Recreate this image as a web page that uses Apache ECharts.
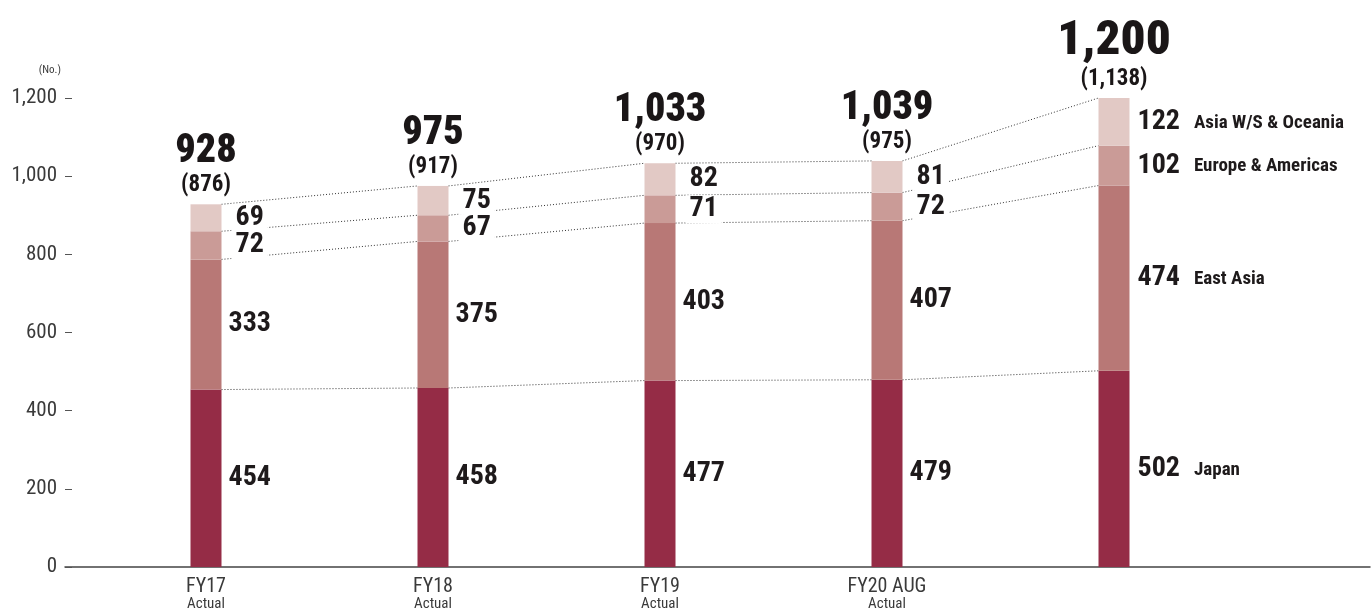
<!DOCTYPE html>
<html>
<head>
<meta charset="utf-8">
<script src="https://cdn.jsdelivr.net/npm/echarts@6/dist/echarts.min.js"></script>
<style>
html,body{margin:0;padding:0;background:#fff;}
#chart{width:1371px;height:612px;}
</style>
</head>
<body>
<div id="chart"></div>
<script>
const categories = ['FY17', 'FY18', 'FY19', 'FY20 AUG', ''];
const subLabels = ['Actual', 'Actual', 'Actual', 'Actual', ''];
const seriesNames = ['Japan', 'East Asia', 'Europe & Americas', 'Asia W/S & Oceania'];
const japan = [454, 458, 477, 479, 502];
const eastAsia = [333, 375, 403, 407, 474];
const europeAmericas = [72, 67, 71, 72, 102];
const asiaWSOceania = [69, 75, 82, 81, 122];
const totals = [928, 975, 1033, 1039, 1200];
const subTotals = [876, 917, 970, 975, 1138];
const yMin = 0, yMax = 1200, yStep = 200;

const FONT = '"Liberation Sans Narrow", "Roboto Condensed", "DejaVu Sans Condensed", "Liberation Sans", sans-serif';
const colors = ['#952c46', '#b87876', '#ca9b97', '#e2c9c5'];
const BAR_W = 31;
const seriesData = [japan, eastAsia, europeAmericas, asiaWSOceania];
const last = categories.length - 1;

function fmt(n) { return String(n).replace(/\B(?=(\d{3})+(?!\d))/g, ','); }

// cumulative tops for dotted connectors
const cum = [];
seriesData.forEach((arr, s) => {
  cum.push(arr.map((v, i) => v + (s > 0 ? cum[s - 1][i] : 0)));
});

const barSeries = seriesData.map((arr, s) => ({
  name: seriesNames[s],
  type: 'bar',
  stack: 'total',
  barWidth: BAR_W,
  z: 3,
  itemStyle: { color: colors[s] },
  data: arr.map((v, i) => {
    const isLast = i === last;
    return {
      value: v,
      label: {
        show: true,
        position: 'right',
        distance: isLast ? 4 : (s >= 2 ? 10 : 3),
        backgroundColor: '#fff',
        padding: [0, 4],
        formatter: isLast ? ('{v|' + v + '}{n|' + seriesNames[s] + '}') : ('{v|' + v + '}'),
        rich: {
          v: { fontFamily: FONT, fontWeight: 'bold', fontSize: 28, color: '#1e1a1b', lineHeight: 28 },
          n: { fontFamily: FONT, fontWeight: 'bold', fontSize: 19, color: '#1e1a1b', padding: [2, 0, 0, 14] }
        }
      }
    };
  })
}));

const lineSeries = cum.map((tops, s) => ({
  type: 'custom',
  z: 1,
  silent: true,
  data: tops.slice(0, -1).map((v, i) => [i, v, tops[i + 1]]),
  encode: { x: 0, y: 1 },
  renderItem: function (params, api) {
    const i = api.value(0);
    const p1 = api.coord([i, api.value(1)]);
    const p2 = api.coord([i + 1, api.value(2)]);
    return {
      type: 'line',
      shape: { x1: p1[0] + BAR_W / 2, y1: p1[1], x2: p2[0] - BAR_W / 2, y2: p2[1] },
      style: { stroke: '#333', lineWidth: 1, lineDash: [1, 2] }
    };
  }
}));

const totalSeries = {
  type: 'scatter',
  symbolSize: 0,
  z: 4,
  silent: true,
  itemStyle: { opacity: 1 },
  data: totals.map((t, i) => ({
    value: [i, t],
    label: {
      show: true,
      position: 'top',
      distance: 6,
      formatter: (i === last ? '{A|' : '{a|') + fmt(t) + '}\n{b|(' + fmt(subTotals[i]) + ')}',
      rich: {
        a: { fontFamily: FONT, fontWeight: 900, fontSize: 40, color: '#1a1617', lineHeight: 40, align: 'center' },
        A: { fontFamily: FONT, fontWeight: 900, fontSize: 49, color: '#1a1617', lineHeight: 48, align: 'center' },
        b: { fontFamily: FONT, fontWeight: 'bold', fontSize: 23, color: '#1a1617', lineHeight: 26, align: 'center' }
      }
    }
  }))
};

const chart = echarts.init(document.getElementById('chart'), null, { renderer: 'canvas' });
chart.setOption({
  animation: false,
  backgroundColor: '#fff',
  grid: [
    { left: 92.5, right: 143.5, top: 98, bottom: 45 },
    { left: 65, right: 1, top: 98, bottom: 45 }
  ],
  xAxis: [
    {
      type: 'category',
      gridIndex: 0,
      data: categories,
      axisLine: { show: false },
      axisTick: { show: false },
      axisLabel: {
        margin: 9,
        formatter: (v, i) => '{a|' + v + '}\n{b|' + subLabels[i] + '}',
        rich: {
          a: { fontFamily: FONT, fontSize: 20, color: '#3a3a3a', lineHeight: 21 },
          b: { fontFamily: FONT, fontSize: 15, color: '#3a3a3a', lineHeight: 15 }
        }
      }
    },
    {
      type: 'value',
      gridIndex: 1,
      min: 0, max: 1,
      axisLine: { show: true, lineStyle: { color: '#444', width: 1.5 } },
      axisTick: { show: false },
      axisLabel: { show: false },
      splitLine: { show: false }
    }
  ],
  yAxis: [
    {
      type: 'value',
      gridIndex: 0,
      min: yMin, max: yMax, interval: yStep,
      offset: 27.5,
      name: '(No.)',
      nameLocation: 'end',
      nameGap: 22,
      nameTextStyle: { fontFamily: FONT, fontSize: 11, color: '#3a3a3a', align: 'right', padding: [0, 4, 0, 0] },
      axisLine: { show: false },
      axisTick: { show: true, inside: true, length: 7, lineStyle: { color: '#555' } },
      axisLabel: { margin: 8, fontFamily: FONT, fontSize: 21, color: '#3a3a3a', formatter: v => fmt(v) },
      splitLine: { show: false }
    },
    { type: 'value', gridIndex: 1, show: false, min: 0, max: 1 }
  ],
  series: [...lineSeries, ...barSeries, totalSeries]
});
</script>
</body>
</html>
